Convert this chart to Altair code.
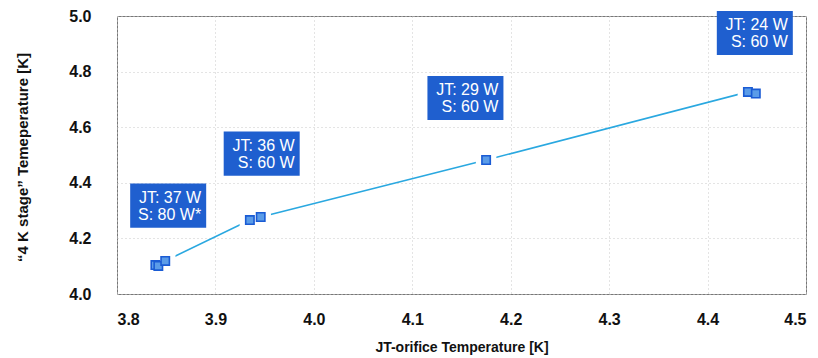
import altair as alt
import pandas as pd

# Measured data (JT-orifice temperature vs "4 K stage" temperature)
jt_temp = [3.839, 3.842, 3.849, 3.935, 3.946, 4.175, 4.441, 4.449]
stage_temp = [4.104, 4.101, 4.119, 4.266, 4.277, 4.482, 4.727, 4.721]

# Annotation boxes
label_jt = ["JT: 37 W", "JT: 36 W", "JT: 29 W", "JT: 24 W"]
label_s = ["S: 80 W*", "S: 60 W", "S: 60 W", "S: 60 W"]
label_x = [3.852, 3.947, 4.154, 4.448]
label_y = [4.318, 4.505, 4.705, 4.939]

x_ticks = [3.8, 3.9, 4.0, 4.1, 4.2, 4.3, 4.4, 4.5]
y_ticks = [4.0, 4.2, 4.4, 4.6, 4.8, 5.0]

pts = pd.DataFrame({"x": jt_temp, "y": stage_temp, "order": list(range(len(jt_temp)))})
labs = pd.DataFrame({"x": label_x, "y": label_y, "jt": label_jt, "s": label_s})

FONT = "Liberation Sans"

xs = alt.Scale(domain=[3.8, 4.5], nice=False, zero=False)
ys = alt.Scale(domain=[4.0, 5.0], nice=False, zero=False)

x_axis = alt.Axis(values=x_ticks, format=".1f", title="JT-orifice Temperature [K]",
                  grid=True, gridColor="#c8c8c8", gridDash=[1, 3], gridWidth=1,
                  ticks=False, domain=False, labelPadding=17,
                  labelFont=FONT, labelFontSize=16, labelFontWeight="bold", labelColor="#111",
                  titleFont=FONT, titleFontSize=14, titleFontWeight="bold", titleColor="#111",
                  titleX=344.5, titleY=53, titleBaseline="middle")
y_axis = alt.Axis(values=y_ticks, format=".1f", title="\u201c4 K stage\u201d Temeperature [K]",
                  grid=True, gridColor="#c8c8c8", gridDash=[1, 3], gridWidth=1,
                  ticks=False, domain=False, labelPadding=26,
                  labelFont=FONT, labelFontSize=16, labelFontWeight="bold", labelColor="#111",
                  titleFont=FONT, titleFontSize=15, titleFontWeight="bold", titleColor="#111",
                  titleX=-95, titleY=141, titleBaseline="middle")

base = alt.Chart(pts)

line = base.mark_line(color="#2aa8e0", strokeWidth=1.6).encode(
    x=alt.X("x:Q", scale=xs, axis=x_axis),
    y=alt.Y("y:Q", scale=ys, axis=y_axis),
    order="order:Q",
)

halo = base.mark_point(shape="square", filled=True, color="white", size=420, opacity=1).encode(
    x=alt.X("x:Q", scale=xs), y=alt.Y("y:Q", scale=ys)
)

markers = base.mark_point(shape="square", filled=True, fill="#5b9ce8", stroke="#1a5bd4",
                          strokeWidth=1.6, size=70, opacity=1).encode(
    x=alt.X("x:Q", scale=xs), y=alt.Y("y:Q", scale=ys)
)

lbase = alt.Chart(labs)
boxes = lbase.mark_point(
    shape="M-1,-0.58L1,-0.58L1,0.58L-1,0.58Z", filled=True, color="#1f5fcf",
    size=76 * 76, opacity=1
).encode(x=alt.X("x:Q", scale=xs), y=alt.Y("y:Q", scale=ys))

t1 = lbase.mark_text(align="right", baseline="middle", dx=33, dy=-8, font=FONT,
                     fontSize=16, color="white").encode(
    x=alt.X("x:Q", scale=xs), y=alt.Y("y:Q", scale=ys), text="jt:N")
t2 = lbase.mark_text(align="right", baseline="middle", dx=33, dy=9, font=FONT,
                     fontSize=16, color="white").encode(
    x=alt.X("x:Q", scale=xs), y=alt.Y("y:Q", scale=ys), text="s:N")

chart = alt.layer(line, halo, markers, boxes, t1, t2).properties(
    width=689, height=278,
    autosize=alt.AutoSizeParams(type="none"),
    padding={"left": 109, "top": 8, "right": 4, "bottom": 62},
    background="white",
).configure_view(stroke="#777", strokeWidth=1)

chart.save("out.html", embed_options={"renderer": "svg", "actions": False})
